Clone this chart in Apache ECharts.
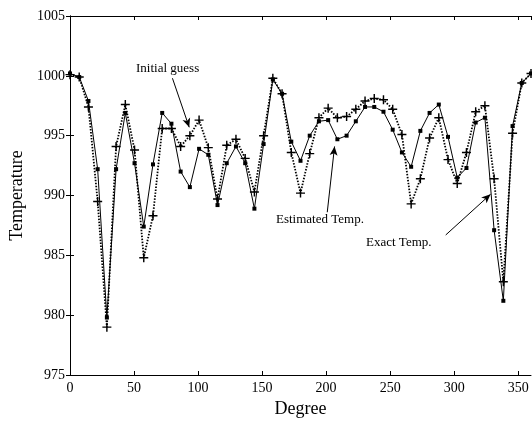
<!DOCTYPE html>
<html>
<head>
<meta charset="utf-8">
<script src="https://cdn.jsdelivr.net/npm/echarts@6/dist/echarts.min.js"></script>
<style>
  html, body { margin: 0; padding: 0; background: #fff; }
  #main { width: 532px; height: 423px; }
</style>
</head>
<body>
<div id="main"></div>
<script>
// angle positions (degree)
var degrees = [0, 7.2, 14.4, 21.6, 28.8, 36, 43.2, 50.4, 57.6, 64.8, 72, 79.2, 86.4, 93.6, 100.8,
    108, 115.2, 122.4, 129.6, 136.8, 144, 151.2, 158.4, 165.6, 172.8, 180, 187.2, 194.4, 201.6,
    208.8, 216, 223.2, 230.4, 237.6, 244.8, 252, 259.2, 266.4, 273.6, 280.8, 288, 295.2, 302.4,
    309.6, 316.8, 324, 331.2, 338.4, 345.6, 352.8, 360];

// solid line, square markers
var solidTemp = [1000.2, 999.9, 997.9, 992.2, 979.8, 992.2, 996.9, 992.7, 987.4, 992.6, 996.9,
    996.0, 992.0, 990.7, 993.9, 993.4, 989.2, 992.7, 994.1, 992.7, 988.9, 994.3, 999.7, 998.5,
    994.5, 992.9, 995.0, 996.2, 996.3, 994.7, 995.0, 996.2, 997.4, 997.4, 997.0, 995.5, 993.6,
    992.4, 995.4, 996.9, 997.6, 994.9, 991.5, 992.3, 996.1, 996.5, 987.1, 981.2, 995.8, 999.4, 1000.2];

// dotted line, plus markers
var dottedTemp = [1000.1, 999.9, 997.4, 989.5, 979.0, 994.1, 997.6, 993.8, 984.8, 988.3, 995.6,
    995.6, 994.1, 995.0, 996.3, 994.0, 989.7, 994.2, 994.7, 993.1, 990.3, 995.0, 999.8, 998.5,
    993.6, 990.2, 993.5, 996.5, 997.3, 996.5, 996.6, 997.2, 997.9, 998.1, 998.0, 997.2, 995.1,
    989.3, 991.4, 994.8, 996.5, 993.0, 991.0, 993.6, 997.0, 997.5, 991.4, 982.8, 995.2, 999.4, 1000.2];

// annotation arrows [from, to] in data coords
var arrows = [
    [[80.0, 999.8], [93.1, 995.7]],
    [[200.9, 988.6], [206.6, 994.1]],
    [[293.4, 986.7], [328.4, 990.1]]
];

var font = '"Liberation Serif", "DejaVu Serif", serif';
var plusSym = 'path://M4.2,0H5.8V4.2H10V5.8H5.8V10H4.2V5.8H0V4.2H4.2Z';

function pairs(ys) {
    return degrees.map(function (d, i) { return [d, ys[i]]; });
}

var chart = echarts.init(document.getElementById('main'));
var axisLine = { show: true, lineStyle: { color: '#000', width: 1 } };
var tick = { show: true, inside: true, length: 4, lineStyle: { color: '#000' } };

var option = {
    animation: false,
    backgroundColor: '#fff',
    grid: { left: 70, right: 1, top: 16, bottom: 46 },
    xAxis: [{
        type: 'value', min: 0, max: 360, interval: 50,
        name: 'Degree', nameLocation: 'middle', nameGap: 25,
        nameTextStyle: { fontFamily: font, fontSize: 18, color: '#000' },
        axisLine: axisLine, axisTick: tick,
        axisLabel: { fontFamily: font, fontSize: 14, color: '#000', margin: 6 },
        splitLine: { show: false }
    }, {
        type: 'value', min: 0, max: 360, interval: 50, position: 'top',
        axisLine: axisLine, axisTick: tick, axisLabel: { show: false }, splitLine: { show: false }
    }],
    yAxis: [{
        type: 'value', min: 975, max: 1005, interval: 5,
        name: 'Temperature', nameLocation: 'middle', nameGap: 40,
        nameTextStyle: { fontFamily: font, fontSize: 18, color: '#000' },
        axisLine: axisLine, axisTick: tick,
        axisLabel: {
            fontFamily: font, fontSize: 14, color: '#000', margin: 5,
            formatter: function (v) { return String(v); }
        },
        splitLine: { show: false }
    }, {
        type: 'value', min: 975, max: 1005, interval: 5, position: 'right',
        axisLine: axisLine, axisTick: tick, axisLabel: { show: false }, splitLine: { show: false }
    }],
    series: [{
        name: 'Estimated Temp.',
        type: 'line',
        data: pairs(solidTemp),
        symbol: 'rect', symbolSize: 4,
        itemStyle: { color: '#000' },
        lineStyle: { color: '#000', width: 1 },
        z: 3
    }, {
        name: 'Exact Temp.',
        type: 'line',
        data: pairs(dottedTemp),
        symbol: plusSym, symbolSize: 9,
        itemStyle: { color: '#000' },
        lineStyle: { color: '#000', width: 1.8, type: [1.5, 1.5] },
        z: 2,
        markLine: {
            silent: true,
            symbol: ['none', 'arrow'],
            symbolSize: [6, 9],
            label: { show: false },
            lineStyle: { color: '#000', width: 1, type: 'solid' },
            data: arrows.map(function (a) {
                return [{ coord: a[0] }, { coord: a[1] }];
            })
        }
    }],
    graphic: [
        { type: 'text', left: 136, top: 62, style: { text: 'Initial guess', font: '13px ' + font, fill: '#000' } },
        { type: 'text', left: 276, top: 213, style: { text: 'Estimated Temp.', font: '13px ' + font, fill: '#000' } },
        { type: 'text', left: 366, top: 236, style: { text: 'Exact Temp.', font: '13px ' + font, fill: '#000' } }
    ]
};
chart.setOption(option);
</script>
</body>
</html>
